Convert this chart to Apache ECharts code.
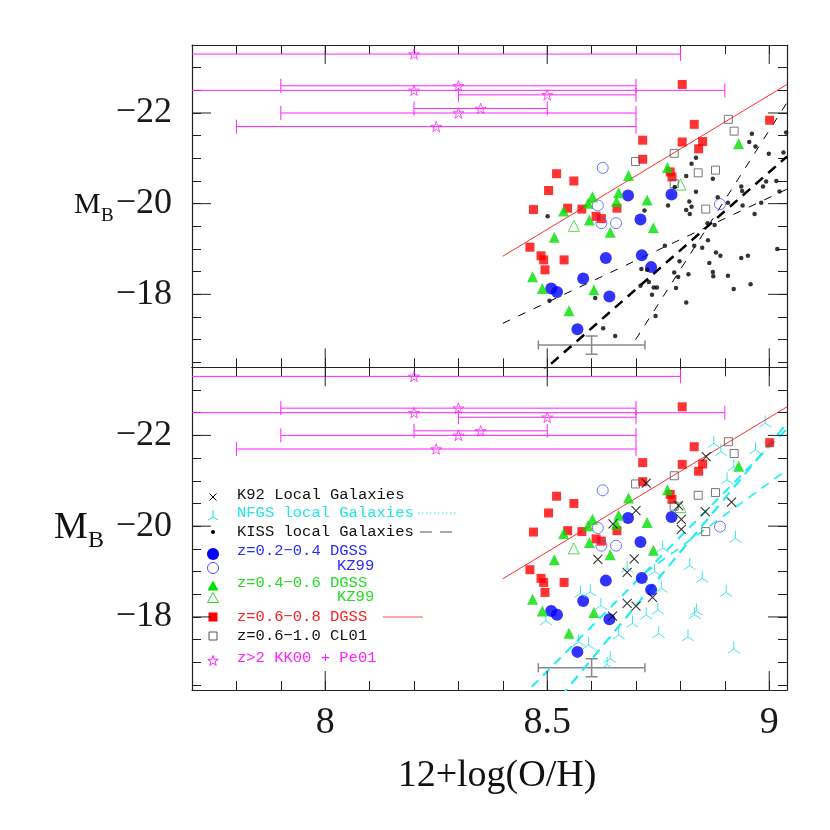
<!DOCTYPE html>
<html><head><meta charset="utf-8">
<script src="https://cdn.jsdelivr.net/npm/echarts@6/dist/echarts.min.js"></script>
<style>html,body{margin:0;padding:0;background:#fff}#c{width:830px;height:830px}</style>
</head><body><div id="c"></div>
<script>
// ---------------- DATA ----------------
const xTickLabels = [8, 8.5, 9];
const yTickLabels = [-22, -20, -18];
const xTitle = '12+log(O/H)';
const yTitle = ['M', 'B'];

// z=0.6-0.8 DGSS (red filled squares)
const dgssRed = [[8.804,-22.63],[9.001,-21.84],[8.831,-21.75],[8.715,-21.40],[8.804,-21.36],[8.850,-21.37],[8.841,-21.21],[8.715,-20.98],[8.521,-20.66],[8.560,-20.50],[8.503,-20.29],[8.777,-20.70],[8.781,-20.59],[8.469,-19.87],[8.546,-19.90],[8.578,-19.88],[8.657,-19.90],[8.610,-19.72],[8.622,-19.67],[8.461,-19.04],[8.486,-18.85],[8.492,-18.76],[8.538,-18.76],[8.495,-18.54]];
// z=0.2-0.4 DGSS (blue filled circles)
const dgssBlue = [[8.682,-20.18],[8.780,-20.20],[8.710,-19.65],[8.632,-18.80],[8.713,-18.86],[8.734,-18.60],[8.581,-18.35],[8.509,-18.13],[8.522,-18.05],[8.640,-17.95],[8.568,-17.23]];
// z=0.2-0.4 KZ99 (blue open circles)
const kz99Blue = [[8.625,-20.79],[8.889,-19.99],[8.614,-19.96],[8.622,-19.57],[8.655,-19.57]];
// z=0.4-0.6 DGSS (green filled triangles)
const dgssGreen = [[8.683,-20.62],[8.771,-20.80],[8.931,-21.32],[8.661,-20.24],[8.725,-20.08],[8.602,-20.15],[8.592,-20.01],[8.537,-19.84],[8.656,-20.05],[8.595,-19.64],[8.642,-19.37],[8.739,-19.47],[8.516,-19.26],[8.467,-18.39],[8.489,-18.13],[8.605,-18.10],[8.549,-17.64]];
// z=0.4-0.6 KZ99 (green open triangles)
const kz99Green = [[8.800,-20.42],[8.560,-19.51]];
// z=0.6-1.0 CL01 (black open squares)
const cl01 = [[8.908,-21.86],[8.921,-21.60],[8.786,-21.11],[8.699,-20.93],[8.879,-20.74],[8.840,-20.68],[8.786,-20.44],[8.857,-19.88]];
// z>2 KK00 + Pe01 : [x, M_B, x error]
const highZ = [[8.2,-23.3,0.6],[8.3,-22.6,0.4],[8.2,-22.5,0.7],[8.5,-22.4,0.2],[8.35,-22.1,0.15],[8.3,-22.0,0.4],[8.25,-21.7,0.45]];
// typical error bar : [x, y, xerr, yerr]
const typicalErr = [[8.6,-16.88,0.12,0.2]];
// KISS local galaxies (top panel)
const kiss = [[8.501,-19.72],[8.719,-19.85],[8.772,-19.96],[8.787,-20.37],[8.835,-20.26],[8.820,-20.05],[8.825,-19.93],[8.813,-19.86],[8.821,-19.77],[8.884,-20.14],[8.907,-20.02],[8.937,-20.38],[8.939,-20.28],[8.986,-20.38],[8.993,-20.49],[9.016,-20.50],[9.023,-20.27],[8.940,-19.96],[8.982,-20.02],[8.967,-19.77],[8.861,-19.57],[8.877,-19.53],[8.765,-19.07],[8.831,-19.07],[8.849,-19.03],[8.862,-19.19],[9.018,-19.00],[8.880,-18.92],[8.890,-18.85],[8.937,-18.80],[8.952,-18.85],[8.798,-18.73],[8.865,-18.69],[8.712,-18.56],[8.725,-18.54],[8.786,-18.48],[8.818,-18.44],[8.873,-18.49],[8.874,-18.40],[8.795,-18.38],[8.907,-18.41],[8.729,-18.27],[8.710,-18.19],[8.740,-18.15],[8.747,-18.15],[8.790,-18.14],[8.920,-18.12],[8.958,-18.22],[8.736,-17.99],[8.608,-17.92],[8.813,-17.82],[8.505,-17.86],[8.744,-17.52],[8.626,-17.25],[8.653,-17.08],[8.961,-21.54],[8.955,-21.36],[8.969,-21.26],[9.038,-21.57],[8.999,-21.10],[9.032,-21.13],[8.835,-21.01],[8.825,-20.88],[8.813,-20.61],[8.873,-20.55]];
// K92 local galaxies (bottom panel)
const k92 = [[8.858,-21.53],[8.723,-20.95],[8.796,-20.45],[8.700,-20.34],[8.802,-20.15],[8.856,-20.32],[8.915,-20.53],[8.648,-20.05],[8.802,-19.93],[8.614,-19.27],[8.696,-19.28],[8.680,-18.98],[8.737,-18.43],[8.680,-18.30],[8.700,-18.24],[8.647,-18.02]];
// NFGS local galaxies (bottom panel)
const nfgs = [[8.991,-22.31],[8.875,-21.86],[8.891,-21.68],[8.969,-21.72],[8.905,-21.06],[8.920,-21.35],[8.924,-19.77],[8.760,-19.56],[8.821,-19.17],[8.849,-18.89],[8.680,-19.11],[8.742,-19.04],[8.757,-18.67],[8.903,-18.58],[8.575,-18.56],[8.597,-18.59],[8.621,-18.29],[8.749,-18.19],[8.723,-18.08],[8.836,-18.17],[8.832,-18.09],[8.497,-17.95],[8.692,-17.90],[8.661,-17.64],[8.751,-17.67],[8.817,-17.60],[8.571,-17.49],[8.593,-17.42],[8.920,-17.33],[8.642,-17.12],[8.635,-16.99]];
// fit lines
const redFit = [[8.4,-18.84],[9.04,-22.63]];
const kissFitThick = [[8.48,-16.22],[9.04,-21.04]];
const kissFitSteep = [[8.699,-17.0],[9.04,-22.23]];
const kissFitShallow = [[8.4,-17.36],[9.04,-20.32]];
const nfgsFitA = [[8.44,-16.21],[9.04,-22.14]];
const nfgsFitB = [[8.53,-16.24],[9.04,-22.27]];
const nfgsFitC = [[8.72,-18.97],[9.04,-21.24]];

const legendLabels = ['K92 Local Galaxies','NFGS local Galaxies','KISS local Galaxies','z=0.2\u22120.4 DGSS','KZ99','z=0.4\u22120.6 DGSS','KZ99','z=0.6\u22120.8 DGSS','z=0.6\u22121.0 CL01','z>2 KK00 + Pe01'];

// ---------------- STYLE ----------------
const X_MIN = 7.7, X_MAX = 9.04, Y_MIN = -23.5, Y_MAX = -16.39;
const FRAME = '#222';
const SERIF = 'Liberation Serif';
const MAG = '#ff22ff', RED = '#ff0000', BLUE = '#0000ff', GREEN = '#00e000', CYAN = '#22eeee';
const STAR = 'path://M0,-10L2.245,-3.09L9.51,-3.09L3.633,1.18L5.88,8.09L0,3.82L-5.88,8.09L-3.633,1.18L-9.51,-3.09L-2.245,-3.09Z';
const CROSS = 'path://M-1,-1L1,1M-1,1L1,-1';
const TRI = 'path://M0,-1L0,0.15M0,0.15L-0.9,0.75M0,0.15L0.9,0.75';

const near = (a, b) => Math.abs(a - b) < 1e-6;
const fmtX = v => { const t = xTickLabels.find(l => near(l, v)); return t === undefined ? '' : String(t); };
const fmtY = v => { const t = yTickLabels.find(l => near(l, v)); return t === undefined ? '' : '\u2212' + Math.abs(t); };

function xAxisDef(grid, pos, labels) {
  return { type:'value', gridIndex:grid, position:pos, min:X_MIN, max:X_MAX, interval:0.1,
    axisLine:{show:true, onZero:false, lineStyle:{color:FRAME, width:1.2}},
    axisTick:{show:true, inside:true, length:9, lineStyle:{color:FRAME, width:1}},
    axisLabel:{show:labels, formatter:fmtX, margin:14, fontSize:38, fontFamily:SERIF, color:'#1a1a1a'},
    splitLine:{show:false} };
}
function yAxisDef(grid, pos, labels) {
  return { type:'value', gridIndex:grid, position:pos, min:Y_MIN, max:Y_MAX, interval:0.5, inverse:true,
    axisLine:{show:true, onZero:false, lineStyle:{color:FRAME, width:1.2}},
    axisTick:{show:true, inside:true, length:9, lineStyle:{color:FRAME, width:1}},
    axisLabel:{show:labels, formatter:fmtY, margin:20, fontSize:36, fontFamily:SERIF, color:'#1a1a1a'},
    splitLine:{show:false} };
}

function majorTicksX(params, api) {
  const cs = params.coordSys;
  const px = api.coord([api.value(0), api.value(1)])[0];
  const st = {stroke:FRAME, lineWidth:1};
  return {type:'group', children:[
    {type:'line', shape:{x1:px, y1:cs.y+cs.height, x2:px, y2:cs.y+cs.height-19}, style:st},
    {type:'line', shape:{x1:px, y1:cs.y, x2:px, y2:cs.y+19}, style:st}]};
}
function majorTicksY(params, api) {
  const cs = params.coordSys;
  const py = api.coord([api.value(0), api.value(1)])[1];
  const st = {stroke:FRAME, lineWidth:1};
  return {type:'group', children:[
    {type:'line', shape:{x1:cs.x, y1:py, x2:cs.x+19, y2:py}, style:st},
    {type:'line', shape:{x1:cs.x+cs.width, y1:py, x2:cs.x+cs.width-19, y2:py}, style:st}]};
}
function starErr(params, api) {
  const x = api.value(0), y = api.value(1), e = api.value(2);
  const p1 = api.coord([x - e, y]), p2 = api.coord([x + e, y]);
  const st = {stroke:MAG, lineWidth:1};
  return {type:'group', children:[
    {type:'line', shape:{x1:p1[0], y1:p1[1], x2:p2[0], y2:p2[1]}, style:st},
    {type:'line', shape:{x1:p1[0], y1:p1[1]-7, x2:p1[0], y2:p1[1]+7}, style:st},
    {type:'line', shape:{x1:p2[0], y1:p2[1]-7, x2:p2[0], y2:p2[1]+7}, style:st}]};
}
function typErr(params, api) {
  const x = api.value(0), y = api.value(1), ex = api.value(2), ey = api.value(3);
  const l = api.coord([x - ex, y]), r = api.coord([x + ex, y]);
  const t = api.coord([x, y - ey]), b = api.coord([x, y + ey]);
  const st = {stroke:'#888', lineWidth:1.5};
  return {type:'group', children:[
    {type:'line', shape:{x1:l[0], y1:l[1], x2:r[0], y2:r[1]}, style:st},
    {type:'line', shape:{x1:l[0], y1:l[1]-4.5, x2:l[0], y2:l[1]+4.5}, style:st},
    {type:'line', shape:{x1:r[0], y1:r[1]-4.5, x2:r[0], y2:r[1]+4.5}, style:st},
    {type:'line', shape:{x1:t[0], y1:t[1], x2:b[0], y2:b[1]}, style:st},
    {type:'line', shape:{x1:t[0]-6, y1:t[1], x2:t[0]+6, y2:t[1]}, style:st},
    {type:'line', shape:{x1:b[0]-6, y1:b[1], x2:b[0]+6, y2:b[1]}, style:st}]};
}

function scatter(ax, data, symbol, size, style, z) {
  return {type:'scatter', xAxisIndex:ax, yAxisIndex:ax, data, symbol, symbolSize:size, symbolKeepAspect:true,
    itemStyle:style, silent:true, animation:false, z:z||3};
}
function line(ax, data, style, z) {
  return {type:'line', xAxisIndex:ax, yAxisIndex:ax, data, symbol:'none', showSymbol:false, clip:true,
    lineStyle:style, silent:true, animation:false, z:z||2};
}
function custom(ax, data, fn, z) {
  return {type:'custom', xAxisIndex:ax, yAxisIndex:ax, data, renderItem:fn, clip:true, silent:true, animation:false, z:z||2};
}
const OPEN = 'rgba(0,0,0,0)';
function common(ax) {
  return [
    custom(ax, xTickLabels.map(v => [v, -20]), majorTicksX, 5),
    custom(ax, yTickLabels.map(v => [8.5, v]), majorTicksY, 5),
    line(ax, redFit, {color:'#ff3030', width:1, type:'solid'}),
    custom(ax, highZ, starErr, 2),
    custom(ax, typicalErr, typErr, 2),
    scatter(ax, highZ.map(d => [d[0], d[1]]), STAR, 11, {color:OPEN, borderColor:MAG, borderWidth:1}, 4),
    scatter(ax, dgssRed, 'rect', 9, {color:RED}),
    scatter(ax, dgssBlue, 'circle', 12, {color:BLUE}),
    scatter(ax, kz99Blue, 'circle', 11, {color:OPEN, borderColor:'#5050ff', borderWidth:1}),
    scatter(ax, dgssGreen, 'triangle', 11, {color:GREEN}),
    scatter(ax, kz99Green, 'triangle', 11, {color:OPEN, borderColor:'#30d030', borderWidth:1}),
    scatter(ax, cl01, 'rect', 8, {color:OPEN, borderColor:'#555', borderWidth:1})
  ];
}

const series = [].concat(
  common(0),
  [
    scatter(0, kiss, 'circle', 4.5, {color:'#000'}, 4),
    line(0, kissFitThick, {color:'#000', width:2.5, type:[10,7]}, 3),
    line(0, kissFitSteep, {color:'#000', width:1, type:[8,9]}, 3),
    line(0, kissFitShallow, {color:'#000', width:1, type:[8,9]}, 3)
  ],
  common(2),
  [
    scatter(2, k92, CROSS, 9, {color:OPEN, borderColor:'#000', borderWidth:1.1}, 4),
    scatter(2, nfgs, TRI, 12, {color:OPEN, borderColor:'#11e0e0', borderWidth:1}, 4),
    line(2, nfgsFitA, {color:CYAN, width:2, type:[9,7]}, 3),
    line(2, nfgsFitB, {color:CYAN, width:2.2, type:[10,7]}, 3),
    line(2, nfgsFitC, {color:CYAN, width:1.6, type:[9,7]}, 3)
  ]
);

// ---------------- LEGEND & TITLES (layout only) ----------------
const LX = 213, TX = 237, KZX = 337;
const rowText = [495, 513, 532, 551, 566, 583, 597, 617, 636, 658];
const rowSym = [497, 516, 532, 554, 568, 586, 598, 617, 636, 661];
const rowColor = ['#111', '#22e6e6', '#111', '#2a2aff', '#2a2aff', '#22dd22', '#22dd22', '#ff2020', '#111', '#ff22ff'];
function starPts(cx, cy, r) {
  const pts = [];
  for (let i = 0; i < 10; i++) {
    const a = -Math.PI / 2 + i * Math.PI / 5, rr = i % 2 ? r * 0.382 : r;
    pts.push([cx + rr * Math.cos(a), cy + rr * Math.sin(a)]);
  }
  return pts;
}
function legendSym(i, y) {
  const x = LX;
  switch (i) {
    case 0: return [{type:'line', shape:{x1:x-3.5,y1:y-3.5,x2:x+3.5,y2:y+3.5}, style:{stroke:'#000',lineWidth:1}},
                    {type:'line', shape:{x1:x-3.5,y1:y+3.5,x2:x+3.5,y2:y-3.5}, style:{stroke:'#000',lineWidth:1}}];
    case 1: return [{type:'polyline', shape:{points:[[x,y-6],[x,y+1]]}, style:{stroke:'#11e0e0',lineWidth:1,fill:null}},
                    {type:'polyline', shape:{points:[[x-5,y+4],[x,y+1],[x+5,y+4]]}, style:{stroke:'#11e0e0',lineWidth:1,fill:null}}];
    case 2: return [{type:'circle', shape:{cx:x,cy:y,r:2}, style:{fill:'#000'}}];
    case 3: return [{type:'circle', shape:{cx:x,cy:y,r:6}, style:{fill:BLUE}}];
    case 4: return [{type:'circle', shape:{cx:x,cy:y,r:5.5}, style:{fill:null,stroke:'#5050ff',lineWidth:1}}];
    case 5: return [{type:'polygon', shape:{points:[[x,y-5.5],[x-5.5,y+4.5],[x+5.5,y+4.5]]}, style:{fill:GREEN}}];
    case 6: return [{type:'polygon', shape:{points:[[x,y-5.5],[x-5.5,y+4.5],[x+5.5,y+4.5]]}, style:{fill:null,stroke:'#30d030',lineWidth:1}}];
    case 7: return [{type:'rect', shape:{x:x-4.5,y:y-4.5,width:9,height:9}, style:{fill:RED}}];
    case 8: return [{type:'rect', shape:{x:x-4,y:y-4,width:8,height:8}, style:{fill:null,stroke:'#555',lineWidth:1}}];
    case 9: return [{type:'polygon', shape:{points:starPts(x, y, 5.5)}, style:{fill:null,stroke:MAG,lineWidth:1}}];
  }
  return [];
}
const graphics = [];
legendLabels.forEach((lab, i) => {
  legendSym(i, rowSym[i]).forEach(g => graphics.push(g));
  graphics.push({type:'text', x:(i === 4 || i === 6) ? KZX : TX, y:rowText[i],
    style:{text:lab, fill:rowColor[i], font:'15.5px "Liberation Mono"', textVerticalAlign:'middle', textAlign:'left'}});
});
graphics.push({type:'line', shape:{x1:418,y1:513,x2:456,y2:513}, style:{stroke:'#22e6e6',lineWidth:1,lineDash:[1.5,2.5]}});
graphics.push({type:'line', shape:{x1:420,y1:532,x2:460,y2:532}, style:{stroke:'#555',lineWidth:1,lineDash:[12,8]}});
graphics.push({type:'line', shape:{x1:383,y1:617,x2:423,y2:617}, style:{stroke:'#ff5050',lineWidth:1}});
// axis titles
graphics.push({type:'text', x:497, y:776, style:{text:xTitle, fill:'#111', font:'38px "Liberation Serif"', textAlign:'center', textVerticalAlign:'middle'}});
graphics.push({type:'text', x:74, y:205, style:{text:yTitle[0], fill:'#111', font:'30px "Liberation Serif"', textAlign:'left', textVerticalAlign:'middle'}});
graphics.push({type:'text', x:101, y:216, style:{text:yTitle[1], fill:'#111', font:'19px "Liberation Serif"', textAlign:'left', textVerticalAlign:'middle'}});
graphics.push({type:'text', x:54, y:528, style:{text:yTitle[0], fill:'#111', font:'38px "Liberation Serif"', textAlign:'left', textVerticalAlign:'middle'}});
graphics.push({type:'text', x:88, y:541, style:{text:yTitle[1], fill:'#111', font:'24px "Liberation Serif"', textAlign:'left', textVerticalAlign:'middle'}});

const chart = echarts.init(document.getElementById('c'), null, {renderer:'canvas'});
chart.setOption({
  animation:false,
  backgroundColor:'#fff',
  grid:[
    {left:192, top:45, width:595, height:322.3, containLabel:false},
    {left:192, top:367.3, width:595, height:322.7, containLabel:false}
  ],
  xAxis:[xAxisDef(0,'bottom',false), xAxisDef(0,'top',false), xAxisDef(1,'bottom',true), xAxisDef(1,'top',false)],
  yAxis:[yAxisDef(0,'left',true), yAxisDef(0,'right',false), yAxisDef(1,'left',true), yAxisDef(1,'right',false)],
  series,
  graphic:graphics
});
</script></body></html>
